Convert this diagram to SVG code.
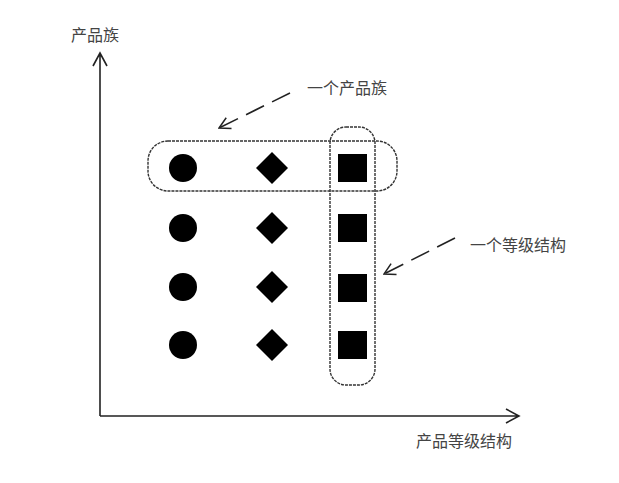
<svg xmlns="http://www.w3.org/2000/svg" width="619" height="483" viewBox="0 0 619 483">
<style>
text{font-family:"Liberation Serif","Noto Sans CJK SC",serif;font-size:16px;fill:#444}
.axis{stroke:#222;stroke-width:1.6;fill:none}
.grp{stroke:#333;stroke-width:1.4;fill:none;stroke-dasharray:3 1}
.call{stroke:#222;stroke-width:1.6;fill:none;stroke-dasharray:20 9}
.shape{fill:#000}
</style>
<defs>
<marker id="open" viewBox="0 0 16 16" refX="15" refY="8" markerWidth="16" markerHeight="16" markerUnits="userSpaceOnUse" orient="auto">
<path d="M4,2 L15,8 L4,14" fill="none" stroke="#222" stroke-width="1.5"/>
</marker>
</defs>
<rect width="619" height="483" fill="#fff"/>
<g id="axes">
<path class="axis" d="M100,416 V54 M93,66 L100,53 L107,66"/>
<path class="axis" d="M100,416 H518 M506,409 L519,416 L506,423"/>
<text x="71" y="41">产品族</text>
<text x="416" y="447">产品等级结构</text>
</g>
<g id="row-family">
<rect class="grp" x="148" y="141" width="249" height="50" rx="20"/>
</g>
<g id="col-level">
<rect class="grp" x="330" y="127" width="45" height="258" rx="16"/>
</g>
<g id="items">
<circle class="shape" cx="183" cy="168" r="14"/>
<circle class="shape" cx="183" cy="228" r="14"/>
<circle class="shape" cx="183" cy="287" r="14"/>
<circle class="shape" cx="183" cy="345" r="14"/>
<path class="shape" d="M272,152 L288,168 L272,184 L256,168Z"/>
<path class="shape" d="M272,212 L288,228 L272,244 L256,228Z"/>
<path class="shape" d="M272,271 L288,287 L272,303 L256,287Z"/>
<path class="shape" d="M272,329 L288,345 L272,361 L256,345Z"/>
<rect class="shape" x="338" y="154" width="29" height="28"/>
<rect class="shape" x="338" y="214" width="29" height="28"/>
<rect class="shape" x="338" y="274" width="29" height="28"/>
<rect class="shape" x="338" y="331" width="29" height="28"/>
</g>
<g id="connectors">
<path class="call" d="M290,93 L219,128" marker-end="url(#open)"/>
<path class="call" d="M455,238 L384,274" marker-end="url(#open)"/>
</g>
<g id="labels">
<text x="307" y="94">一个产品族</text>
<text x="470" y="251">一个等级结构</text>
</g>
</svg>
